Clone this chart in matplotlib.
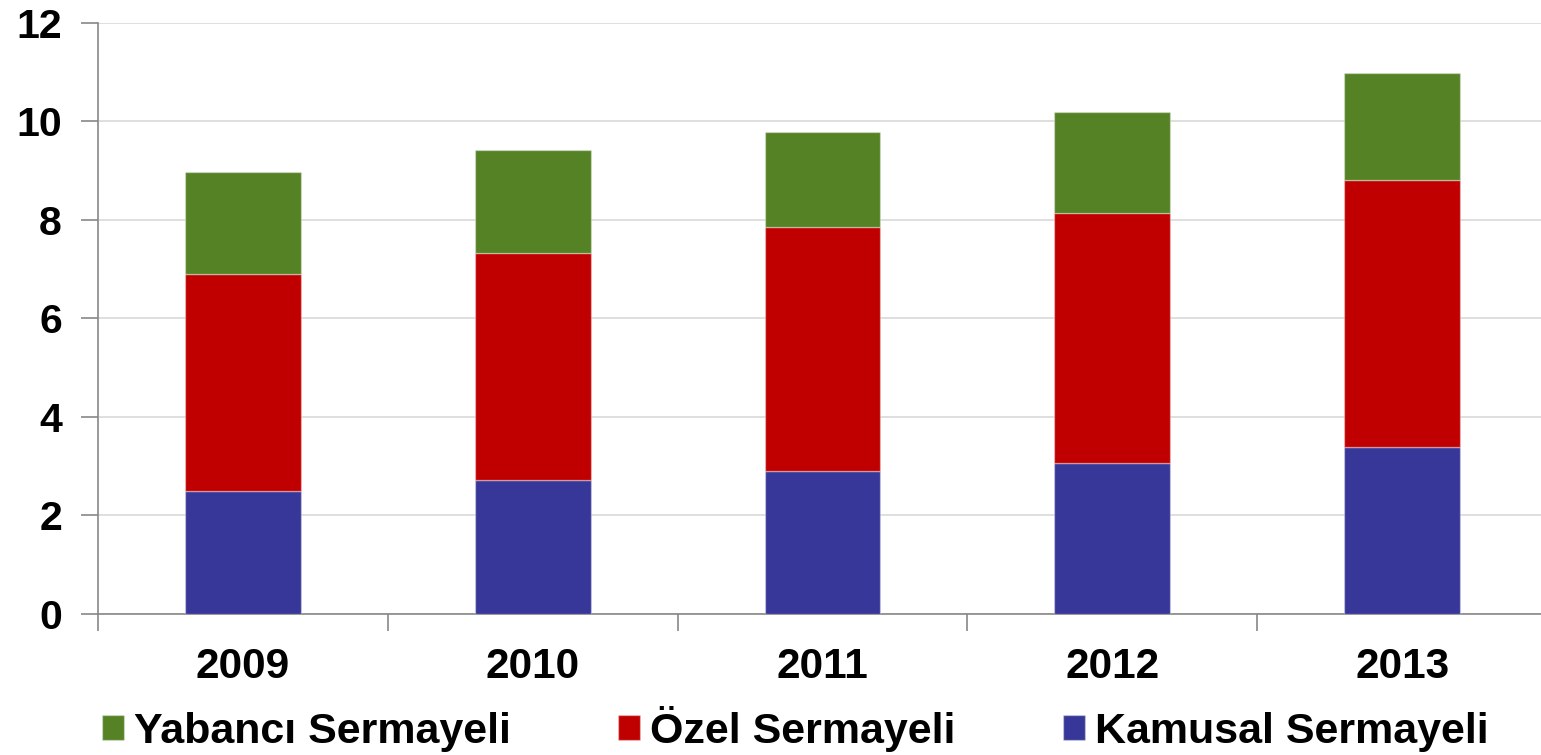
import numpy as np
import matplotlib
matplotlib.use("Agg")
from matplotlib import pyplot as plt

years = ["2009", "2010", "2011", "2012", "2013"]
kamusal = [2.50, 2.73, 2.90, 3.06, 3.38]
ozel = [4.40, 4.59, 4.95, 5.08, 5.43]
yabanci = [2.07, 2.10, 1.94, 2.05, 2.17]

plt.rcParams['font.family'] = ['Liberation Sans', 'DejaVu Sans']
plt.rcParams['font.weight'] = 'bold'

fig = plt.figure(figsize=(15.41, 7.55), dpi=100)
ax = fig.add_axes([0.0636, 0.1868, 0.9403, 0.7828])

x = np.arange(len(years))
w = 0.40
edge = (1, 1, 1, 0.35)
bottom2 = np.array(kamusal)
bottom3 = bottom2 + np.array(ozel)

b1 = ax.bar(x, kamusal, w, color='#373799', edgecolor=edge, linewidth=1, zorder=3, label='Kamusal Sermayeli')
b2 = ax.bar(x, ozel, w, bottom=bottom2, color='#C00000', edgecolor=edge, linewidth=1, zorder=3, label='Özel Sermayeli')
b3 = ax.bar(x, yabanci, w, bottom=bottom3, color='#548224', edgecolor=edge, linewidth=1, zorder=3, label='Yabancı Sermayeli')

ax.set_xlim(-0.5, 4.5)
ax.set_ylim(0, 12)
ax.set_yticks(np.arange(0, 13, 2))
ax.set_yticklabels([str(v) for v in range(0, 13, 2)], fontsize=29.5, fontweight='bold')

# category labels centred, ticks between categories
ax.set_xticks(x)
ax.set_xticklabels(years, fontsize=30.5, fontweight='bold')
ax.set_xticks(np.arange(-0.5, 5, 1), minor=True)
ax.tick_params(axis='x', which='major', length=0, pad=24)
ax.tick_params(axis='x', which='minor', length=12, width=1.2, color='#878787', direction='out')
ax.tick_params(axis='y', length=12, width=1.2, color='#878787', direction='out', pad=14)

ax.grid(axis='y', color='#d9d9d9', linewidth=1.2, zorder=0)
ax.set_axisbelow(True)
for s in ['top', 'right']:
    ax.spines[s].set_visible(False)
for s in ['left', 'bottom']:
    ax.spines[s].set_color('#878787')
    ax.spines[s].set_linewidth(1.2)

fig.legend([b3, b2, b1], ['Yabancı Sermayeli', 'Özel Sermayeli', 'Kamusal Sermayeli'],
           loc='lower left', bbox_to_anchor=(0.066, 0.004), ncol=3, frameon=False,
           prop={'size': 31, 'weight': 'bold'}, handlelength=0.52, handleheight=0.52,
           handletextpad=0.22, columnspacing=2.5, borderpad=0, borderaxespad=0)

fig.savefig('out.png', dpi=100)
